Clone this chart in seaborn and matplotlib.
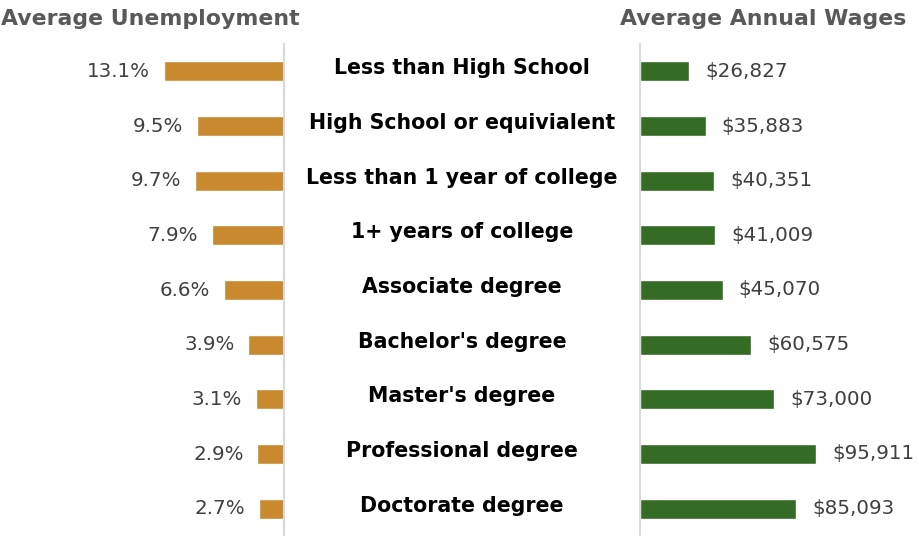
import matplotlib
matplotlib.use("Agg")
import matplotlib.pyplot as plt
import seaborn as sns
import pandas as pd

# data
levels = [
    "Less than High School",
    "High School or equivialent",
    "Less than 1 year of college",
    "1+ years of college",
    "Associate degree",
    "Bachelor's degree",
    "Master's degree",
    "Professional degree",
    "Doctorate degree",
]
unemployment = [13.1, 9.5, 9.7, 7.9, 6.6, 3.9, 3.1, 2.9, 2.7]
wages = [26827, 35883, 40351, 41009, 45070, 60575, 73000, 95911, 85093]

ORANGE = "#C8892F"
GREEN = "#346B25"
GRID = "#D9D9D9"
TEXT = "#404040"
TITLE = "#595959"

sns.set_style("white")
plt.rcParams["font.family"] = ["DejaVu Sans"]

df = pd.DataFrame({"level": levels, "unemp": unemployment, "wage": wages})

fig = plt.figure(figsize=(9.19, 5.36), dpi=100)
W, H = 919, 536
top_px = 44
ax_h = (H - top_px) / H

ax_l = fig.add_axes([0, 0, 284 / W, ax_h])
ax_r = fig.add_axes([640 / W, 0, (W - 640) / W, ax_h])

sns.barplot(data=df, x="unemp", y="level", orient="h", color=ORANGE,
            width=0.36, saturation=1, ax=ax_l)
sns.barplot(data=df, x="wage", y="level", orient="h", color=GREEN,
            width=0.36, saturation=1, ax=ax_r)

ax_l.set_xlim(31, 0)
ax_r.set_xlim(0, 152000)

for ax in (ax_l, ax_r):
    ax.set_ylim(len(levels) - 0.5, -0.5)
    ax.set_xlabel("")
    ax.set_ylabel("")
    ax.set_xticks([])
    ax.set_yticks([])
    for s in ax.spines.values():
        s.set_visible(False)
    ax.patch.set_alpha(0)

ax_l.spines["right"].set_visible(True)
ax_l.spines["right"].set_color(GRID)
ax_l.spines["right"].set_linewidth(1.5)
ax_r.spines["left"].set_visible(True)
ax_r.spines["left"].set_color(GRID)
ax_r.spines["left"].set_linewidth(1.5)

for i, v in enumerate(unemployment):
    ax_l.annotate(f"{v:.1f}%", (v, i), xytext=(-10, 0), textcoords="offset points",
                  ha="right", va="center", fontsize=14.3, color=TEXT)
for i, v in enumerate(wages):
    ax_r.annotate(f"${v:,}", (v, i), xytext=(11.5, 0), textcoords="offset points",
                  ha="left", va="center", fontsize=14.3, color=TEXT)

# middle category labels
for i, lab in enumerate(levels):
    y = (H - top_px - (i + 0.5) * (H - top_px) / len(levels) + 3) / H
    fig.text(462 / W, y, lab, ha="center", va="center",
             fontsize=14.8, fontweight="bold", color="black")

fig.text(1 / W, 1 - 19 / H, "Average Unemployment", ha="left", va="center",
         fontsize=15.8, fontweight="bold", color=TITLE)
fig.text(906 / W, 1 - 19 / H, "Average Annual Wages", ha="right", va="center",
         fontsize=15.8, fontweight="bold", color=TITLE)

fig.savefig("out.png", dpi=100)
